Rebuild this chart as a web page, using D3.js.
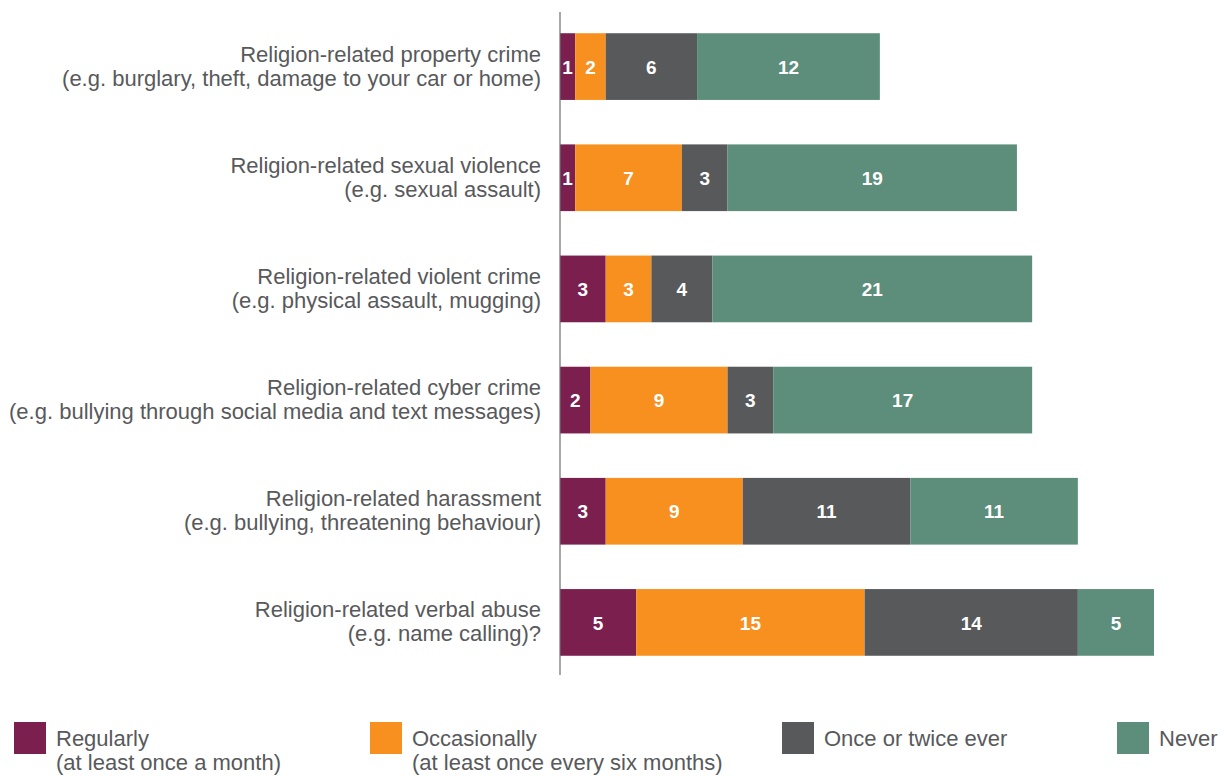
<!DOCTYPE html>
<html>
<head>
<meta charset="utf-8">
<script src="https://cdn.jsdelivr.net/npm/d3@7"></script>
<style>
html,body{margin:0;padding:0;background:#fff;}
svg{display:block;font-family:"Liberation Sans", Arial, sans-serif;}
</style>
</head>
<body>
<svg id="chart" width="1224" height="776"></svg>
<script>
const categories = [
  ["Religion-related property crime", "(e.g. burglary, theft, damage to your car or home)"],
  ["Religion-related sexual violence", "(e.g. sexual assault)"],
  ["Religion-related violent crime", "(e.g. physical assault, mugging)"],
  ["Religion-related cyber crime", "(e.g. bullying through social media and text messages)"],
  ["Religion-related harassment", "(e.g. bullying, threatening behaviour)"],
  ["Religion-related verbal abuse", "(e.g. name calling)?"]
];
const regularly    = [1, 1, 3, 2, 3, 5];
const occasionally = [2, 7, 3, 9, 9, 15];
const onceOrTwice  = [6, 3, 4, 3, 11, 14];
const never        = [12, 19, 21, 17, 11, 5];
const seriesNames = [
  ["Regularly", "(at least once a month)"],
  ["Occasionally", "(at least once every six months)"],
  ["Once or twice ever"],
  ["Never"]
];
const colors = ["#7b1f4f", "#f7901e", "#58595b", "#5c8e7b"];

const svg = d3.select("#chart");
const seriesVals = [regularly, occasionally, onceOrTwice, never];
const rows = categories.map((c, i) => {
  const o = {key: i};
  seriesVals.forEach((s, j) => o["s" + j] = s[i]);
  return o;
});
const keys = ["s0", "s1", "s2", "s3"];
const stacked = d3.stack().keys(keys)(rows);

const x = d3.scaleLinear().domain([0, 39]).range([560, 1154]);
const y = d3.scaleBand().domain(d3.range(categories.length)).range([11, 678])
  .paddingInner(0.4).paddingOuter(0.2);

// bars
const g = svg.append("g");
stacked.forEach((layer, j) => {
  const lg = g.append("g").attr("fill", colors[j]);
  lg.selectAll("rect").data(layer).join("rect")
    .attr("x", d => x(d[0]))
    .attr("y", (d, i) => y(i))
    .attr("width", d => x(d[1]) - x(d[0]))
    .attr("height", y.bandwidth());
  g.append("g").selectAll("text").data(layer).join("text")
    .attr("x", d => (x(d[0]) + x(d[1])) / 2)
    .attr("y", (d, i) => y(i) + y.bandwidth() / 2)
    .attr("dy", "0.38em")
    .attr("text-anchor", "middle")
    .attr("fill", "#fff")
    .attr("font-weight", "bold")
    .attr("font-size", 19)
    .text(d => d[1] - d[0]);
});

// axis line
const axis = d3.axisLeft(y).tickSize(0).tickFormat("");
svg.append("g").attr("transform", "translate(560,0)").call(axis)
  .call(a => a.select(".domain").attr("d", "M0,12V675").attr("stroke", "#6d6e71").attr("stroke-width", 1.2));

// category labels
const lab = svg.append("g").attr("fill", "#58595b").attr("font-size", 22).attr("text-anchor", "end");
categories.forEach((c, i) => {
  const cy = y(i) + y.bandwidth() / 2;
  lab.append("text").attr("x", 541).attr("y", cy - 5).text(c[0]);
  lab.append("text").attr("x", 541).attr("y", cy + 19).text(c[1]);
});

// legend
const legX = [14, 370, 782, 1117];
const leg = svg.append("g");
seriesNames.forEach((n, j) => {
  leg.append("rect").attr("x", legX[j]).attr("y", 722).attr("width", 32).attr("height", 32).attr("fill", colors[j]);
  n.forEach((t, k) => {
    leg.append("text").attr("x", legX[j] + 42).attr("y", 746 + k * 24)
      .attr("fill", "#58595b").attr("font-size", 22).text(t);
  });
});
</script>
</body>
</html>
